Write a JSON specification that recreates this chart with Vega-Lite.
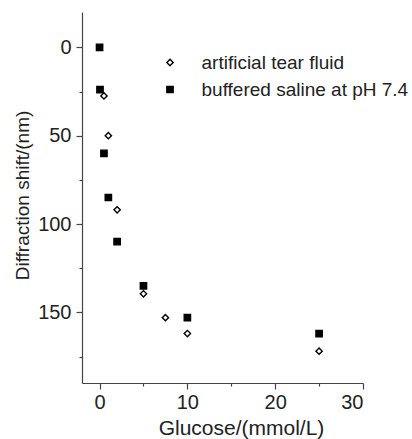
{
  "$schema": "https://vega.github.io/schema/vega-lite/v6.json",
  "width": 281,
  "height": 371,
  "autosize": {"type": "none"},
  "padding": {"left": 82, "top": 12, "right": 49, "bottom": 56},
  "background": "white",
  "config": {
    "view": {"stroke": null},
    "font": "Liberation Sans",
    "axis": {"grid": false, "domainColor": "#444", "tickColor": "#444", "labelColor": "#222", "titleColor": "#222", "labelFont": "Liberation Sans", "titleFont": "Liberation Sans", "titleFontWeight": "normal", "domainWidth": 1.2, "tickWidth": 1.2}
  },
  "data": {
    "values": [
      {"series": "artificial tear fluid", "glucose": 0.5, "shift": 27.5},
      {"series": "artificial tear fluid", "glucose": 1, "shift": 50},
      {"series": "artificial tear fluid", "glucose": 2, "shift": 92},
      {"series": "artificial tear fluid", "glucose": 5, "shift": 139.5},
      {"series": "artificial tear fluid", "glucose": 7.5, "shift": 153},
      {"series": "artificial tear fluid", "glucose": 10, "shift": 162},
      {"series": "artificial tear fluid", "glucose": 25, "shift": 172},
      {"series": "buffered saline at pH 7.4", "glucose": 0, "shift": 0},
      {"series": "buffered saline at pH 7.4", "glucose": 0.05, "shift": 24},
      {"series": "buffered saline at pH 7.4", "glucose": 0.5, "shift": 60},
      {"series": "buffered saline at pH 7.4", "glucose": 1, "shift": 85},
      {"series": "buffered saline at pH 7.4", "glucose": 2, "shift": 110},
      {"series": "buffered saline at pH 7.4", "glucose": 5, "shift": 135},
      {"series": "buffered saline at pH 7.4", "glucose": 10, "shift": 153},
      {"series": "buffered saline at pH 7.4", "glucose": 25, "shift": 162}
    ]
  },
  "resolve": {"axis": {"x": "independent", "y": "independent"}},
  "layer": [
    {
      "mark": {"type": "point", "opacity": 0},
      "encoding": {
        "x": {"field": "glucose", "type": "quantitative", "scale": {"domain": [-2, 30], "nice": false, "zero": false},
          "axis": {"orient": "bottom", "values": [5, 15, 25], "labels": false, "domain": false, "tickSize": 3, "title": null}},
        "y": {"field": "shift", "type": "quantitative", "scale": {"domain": [-20, 190], "reverse": true, "nice": false, "zero": false},
          "axis": {"orient": "left", "values": [25, 75, 125, 175], "labels": false, "domain": false, "tickSize": 3, "title": null}}
      }
    },
    {
      "mark": {"type": "point", "filled": false, "strokeWidth": 1.4, "opacity": 1, "size": 40},
      "encoding": {
        "x": {"field": "glucose", "type": "quantitative", "scale": {"domain": [-2, 30], "nice": false, "zero": false},
          "axis": {"orient": "bottom", "values": [0, 10, 20, 30], "tickSize": 6, "labelFontSize": 20, "labelPadding": 3, "title": "Glucose/(mmol/L)", "titleFontSize": 21, "titleX": 159, "titleY": 45, "titleBaseline": "middle", "titleAlign": "center"}},
        "y": {"field": "shift", "type": "quantitative", "scale": {"domain": [-20, 190], "reverse": true, "nice": false, "zero": false},
          "axis": {"orient": "left", "values": [0, 50, 100, 150], "tickSize": 6, "labelFontSize": 20, "labelPadding": 5, "title": "Diffraction shift/(nm)", "titleFontSize": 19, "titleX": -60, "titleY": 183, "titleAngle": -90, "titleBaseline": "middle", "titleAlign": "center"}},
        "shape": {"field": "series", "type": "nominal", "scale": {"domain": ["artificial tear fluid", "buffered saline at pH 7.4"], "range": ["diamond", "square"]},
          "legend": {"title": null, "orient": "none", "legendX": 78.5, "legendY": 41, "padding": 0, "labelFontSize": 19, "labelColor": "#222", "labelOffset": 22, "labelLimit": 400, "rowPadding": 7, "symbolStrokeWidth": 1.4, "symbolSize": 40}},
        "fill": {"field": "series", "type": "nominal", "scale": {"domain": ["artificial tear fluid", "buffered saline at pH 7.4"], "range": ["white", "black"]}},
        "stroke": {"field": "series", "type": "nominal", "scale": {"domain": ["artificial tear fluid", "buffered saline at pH 7.4"], "range": ["black", "black"]}}
      }
    }
  ]
}
